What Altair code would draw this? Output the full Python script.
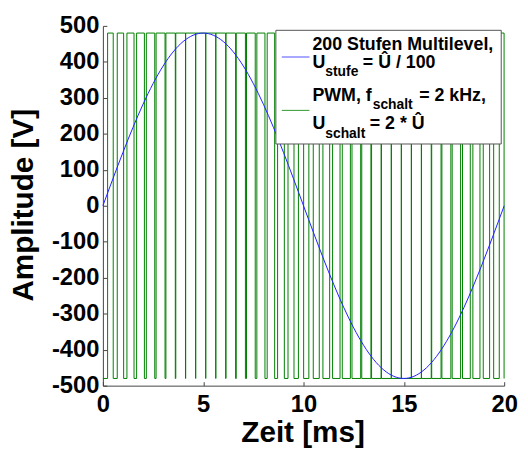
import altair as alt
import pandas as pd

# ---- data ----
t_ms = [0, 0.25, 0.5, 0.75, 1, 1.25, 1.5, 1.75, 2, 2.25, 2.5, 2.75, 3, 3.25, 3.5, 3.75,
        4, 4.25, 4.5, 4.75, 5, 5.25, 5.5, 5.75, 6, 6.25, 6.5, 6.75, 7, 7.25, 7.5, 7.75,
        8, 8.25, 8.5, 8.75, 9, 9.25, 9.5, 9.75, 10, 10.25, 10.5, 10.75, 11, 11.25, 11.5,
        11.75, 12, 12.25, 12.5, 12.75, 13, 13.25, 13.5, 13.75, 14, 14.25, 14.5, 14.75,
        15, 15.25, 15.5, 15.75, 16, 16.25, 16.5, 16.75, 17, 17.25, 17.5, 17.75, 18,
        18.25, 18.5, 18.75, 19, 19.25, 19.5, 19.75, 20]
u_multilevel = [0, 37.7, 75.1, 112.1, 148.3, 183.7, 217.9, 250.8, 282.1, 311.7, 339.4,
                365.0, 388.3, 409.3, 427.7, 443.5, 456.5, 466.7, 474.1, 478.5, 480,
                478.5, 474.1, 466.7, 456.5, 443.5, 427.7, 409.3, 388.3, 365.0, 339.4,
                311.7, 282.1, 250.8, 217.9, 183.7, 148.3, 112.1, 75.1, 37.7, 0,
                -37.7, -75.1, -112.1, -148.3, -183.7, -217.9, -250.8, -282.1, -311.7,
                -339.4, -365.0, -388.3, -409.3, -427.7, -443.5, -456.5, -466.7, -474.1,
                -478.5, -480, -478.5, -474.1, -466.7, -456.5, -443.5, -427.7, -409.3,
                -388.3, -365.0, -339.4, -311.7, -282.1, -250.8, -217.9, -183.7, -148.3,
                -112.1, -75.1, -37.7, 0]
pwm_rise_ms = [0.235, 0.716, 1.198, 1.681, 2.165, 2.652, 3.141, 3.633, 4.127, 4.625,
               5.126, 5.630, 6.136, 6.646, 7.158, 7.673, 8.189, 8.707, 9.226, 9.745,
               10.265, 10.784, 11.302, 11.819, 12.335, 12.848, 13.359, 13.867, 14.373,
               14.875, 15.374, 15.870, 16.364, 16.854, 17.342, 17.827, 18.311, 18.793,
               19.274, 19.755]
pwm_fall_ms = [0.515, 1.034, 1.552, 2.069, 2.585, 3.098, 3.609, 4.117, 4.623, 5.125,
               5.624, 6.120, 6.614, 7.104, 7.592, 8.077, 8.561, 9.043, 9.524, 10.005,
               10.485, 10.966, 11.448, 11.931, 12.415, 12.902, 13.391, 13.883, 14.377,
               14.875, 15.376, 15.880, 16.387, 16.896, 17.408, 17.923, 18.439, 18.957,
               19.476, 19.995]
u_pwm_high = 480
u_pwm_low = -480
x_ticks = [0, 5, 10, 15, 20]
y_ticks = [-500, -400, -300, -200, -100, 0, 100, 200, 300, 400, 500]

# ---- tables ----
sine_df = pd.DataFrame({"t": t_ms, "u": u_multilevel})
rows = [(0, u_pwm_low)]
for r, f in zip(pwm_rise_ms, pwm_fall_ms):
    rows += [(r, u_pwm_low), (r, u_pwm_high), (f, u_pwm_high), (f, u_pwm_low)]
rows.append((20, u_pwm_low))
pwm_df = pd.DataFrame(rows, columns=["t", "u"])
pwm_df["i"] = range(len(pwm_df))

W, H = 406, 364
FONT = "Liberation Sans"
AX = "#444444"

xscale = alt.Scale(domain=[0, 20], nice=False, zero=False)
yscale = alt.Scale(domain=[-500, 500], nice=False, zero=False)

main_x = alt.Axis(orient="bottom", values=x_ticks, ticks=False, tickSize=0, grid=False,
                  domainColor=AX, domainWidth=1, labelFont=FONT, labelFontSize=24,
                  labelFontWeight="bold", labelColor="black", labelPadding=7,
                  labelFlush=False, labelOverlap=False, titleFont=FONT, titleFontSize=30,
                  titleFontWeight="bold", titleColor="black", titleX=W / 2 - 1, titleY=56,
                  titleAlign="center", titleBaseline="alphabetic")
main_y = alt.Axis(orient="left", values=y_ticks, ticks=False, tickSize=0, grid=False,
                  domainColor=AX, domainWidth=1, labelFont=FONT, labelFontSize=24,
                  labelFontWeight="bold", labelColor="black", labelPadding=4,
                  labelFlush=False, labelOverlap=False,
                  labelExpr="datum.value < 0 ? '-' + abs(datum.value) : '' + datum.value",
                  titleFont=FONT, titleFontSize=30, titleFontWeight="bold",
                  titleColor="black", titleAngle=270, titleX=-71, titleY=H / 2 - 1,
                  titleAlign="center", titleBaseline="alphabetic")
tick_x = alt.Axis(orient="top", offset=-H, values=x_ticks, labels=False, domain=False,
                  ticks=True, tickSize=4, tickColor=AX, grid=False)
tick_y = alt.Axis(orient="right", offset=-W, values=y_ticks, labels=False, domain=False,
                  ticks=True, tickSize=4, tickColor=AX, grid=False)

pwm = alt.Chart(pwm_df).mark_line(color="#008000", strokeWidth=1).encode(
    x=alt.X("t:Q", scale=xscale, axis=tick_x, title=""),
    y=alt.Y("u:Q", scale=yscale, axis=tick_y, title=""),
    order="i:Q",
)
sine = alt.Chart(sine_df).mark_line(color="#2020ff", strokeWidth=1, interpolate="monotone").encode(
    x=alt.X("t:Q", scale=xscale, axis=main_x, title="Zeit [ms]"),
    y=alt.Y("u:Q", scale=yscale, axis=main_y, title="Amplitude [V]"),
)

one = pd.DataFrame({"a": [0]})
box = alt.Chart(one).mark_rect(fill="white", stroke="#555555", strokeWidth=1).encode(
    x=alt.value(175), x2=alt.value(403), y=alt.value(4.5), y2=alt.value(119.5))
sym_blue = alt.Chart(one).mark_rule(color="#5050ff", strokeWidth=1).encode(
    x=alt.value(181), x2=alt.value(209), y=alt.value(31.5))
sym_green = alt.Chart(one).mark_rule(color="#2e9a2e", strokeWidth=1).encode(
    x=alt.value(181), x2=alt.value(209), y=alt.value(85.5))

legend_pieces = [
    (212, 24.8, "200 Stufen Multilevel,", 18),
    (212, 42.5, "U", 18), (225, 51, "stufe", 14), (263, 42.5, "= Û / 100", 18),
    (212, 75.8, "PWM, f", 18), (273, 84.5, "schalt", 14), (320, 75.8, "= 2 kHz,", 18),
    (212, 104.5, "U", 18), (225, 113, "schalt", 14), (270, 104.5, "= 2 * Û", 18),
]
texts = [
    alt.Chart(one).mark_text(text=s, align="left", baseline="alphabetic", font=FONT,
                             fontSize=fs, fontWeight="bold", color="black").encode(
        x=alt.value(px), y=alt.value(py))
    for px, py, s, fs in legend_pieces
]

chart = alt.layer(pwm, sine, box, sym_blue, sym_green, *texts).resolve_axis(
    x="independent", y="independent"
).properties(
    width=W, height=H,
    autosize=alt.AutoSizeParams(type="none"),
    padding={"left": 96, "top": 15.5, "right": 16, "bottom": 62},
    background="white",
).configure_view(strokeWidth=0)

chart.save("out.html", embed_options={"renderer": "svg", "actions": False})
